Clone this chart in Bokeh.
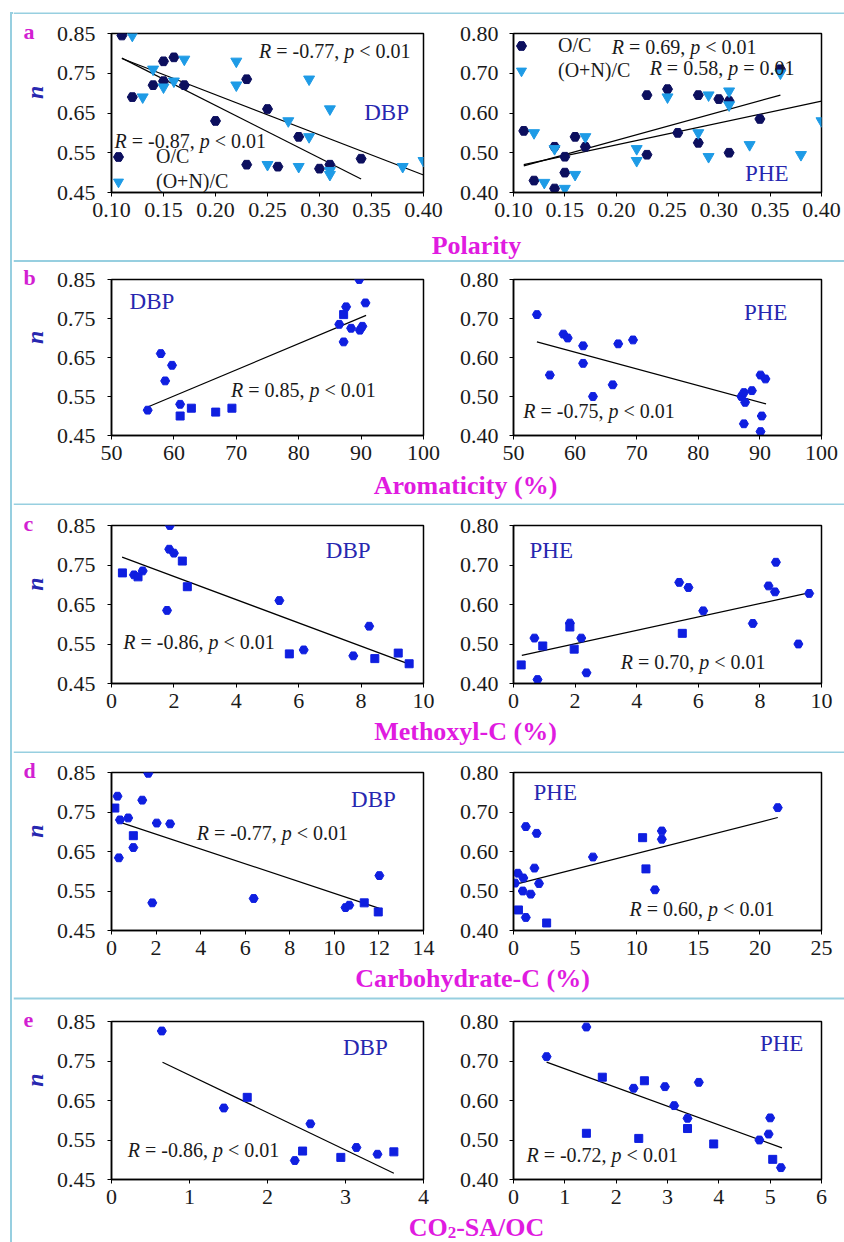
import math
from bokeh.plotting import figure
from bokeh.layouts import column, row
from bokeh.models import (Range1d, FixedTicker, PrintfTickFormatter, Label, Span,
                          Legend, LegendItem, Div)
from bokeh.embed import file_html
from bokeh.resources import INLINE

# ======================= DATA =======================
polarity_ticks = [0.10, 0.15, 0.20, 0.25, 0.30, 0.35, 0.40]
aromaticity_ticks = [50, 60, 70, 80, 90, 100]
methoxyl_ticks = [0, 2, 4, 6, 8, 10]
carb_ticks_dbp = [0, 2, 4, 6, 8, 10, 12, 14]
carb_ticks_phe = [0, 5, 10, 15, 20, 25]
co2_ticks_dbp = [0, 1, 2, 3, 4]
co2_ticks_phe = [0, 1, 2, 3, 4, 5, 6]
n_ticks_dbp = [0.45, 0.55, 0.65, 0.75, 0.85]
n_ticks_phe = [0.40, 0.50, 0.60, 0.70, 0.80]

x_titles = ["Polarity", "Aromaticity (%)", "Methoxyl-C (%)", "Carbohydrate-C (%)"]
co2_title_parts = ["CO", "2", "-SA/OC"]
panel_letters = ["a", "b", "c", "d", "e"]
y_title = "n"
series_names = ["O/C", "(O+N)/C"]
compounds = ["DBP", "PHE"]

# --- a: polarity ---
a_dbp_oc_x = [0.11, 0.12, 0.14, 0.15, 0.16, 0.15, 0.17, 0.20, 0.23, 0.23, 0.25, 0.26, 0.28, 0.30, 0.31, 0.34]
a_dbp_oc_y = [0.845, 0.69, 0.72, 0.78, 0.79, 0.73, 0.72, 0.63, 0.735, 0.52, 0.66, 0.515, 0.59, 0.51, 0.52, 0.535]
a_dbp_on_x = [0.12, 0.13, 0.14, 0.15, 0.16, 0.17, 0.22, 0.22, 0.25, 0.27, 0.28, 0.29, 0.29, 0.31, 0.31, 0.31, 0.38, 0.40]
a_dbp_on_y = [0.845, 0.69, 0.76, 0.715, 0.73, 0.785, 0.78, 0.72, 0.52, 0.63, 0.515, 0.735, 0.59, 0.66, 0.505, 0.495, 0.515, 0.53]
a_phe_oc_x = [0.11, 0.12, 0.14, 0.14, 0.15, 0.15, 0.16, 0.17, 0.23, 0.23, 0.25, 0.26, 0.28, 0.28, 0.30, 0.31, 0.31, 0.34, 0.36]
a_phe_oc_y = [0.555, 0.43, 0.515, 0.41, 0.49, 0.45, 0.54, 0.515, 0.645, 0.495, 0.66, 0.55, 0.645, 0.525, 0.635, 0.50, 0.63, 0.585, 0.71]
a_phe_on_x = [0.12, 0.13, 0.14, 0.15, 0.16, 0.17, 0.22, 0.22, 0.25, 0.28, 0.29, 0.29, 0.31, 0.31, 0.33, 0.36, 0.38, 0.40]
a_phe_on_y = [0.55, 0.425, 0.51, 0.41, 0.445, 0.54, 0.51, 0.48, 0.64, 0.55, 0.645, 0.49, 0.655, 0.62, 0.52, 0.70, 0.495, 0.58]
a_dbp_oc_fit_x, a_dbp_oc_fit_y = [0.11, 0.34], [0.788, 0.484]
a_dbp_on_fit_x, a_dbp_on_fit_y = [0.11, 0.40], [0.787, 0.494]
a_phe_oc_fit_x, a_phe_oc_fit_y = [0.11, 0.36], [0.467, 0.645]
a_phe_on_fit_x, a_phe_on_fit_y = [0.11, 0.40], [0.470, 0.630]

# --- b: aromaticity ---
b_dbp_round_x = [55.8, 57.9, 58.6, 59.7, 61.0, 86.5, 87.6, 87.2, 88.4, 89.7, 89.8, 90.2, 90.7]
b_dbp_round_y = [0.515, 0.66, 0.59, 0.63, 0.53, 0.735, 0.78, 0.69, 0.725, 0.85, 0.72, 0.73, 0.79]
b_dbp_sq_x = [61.0, 62.8, 66.7, 69.3, 87.2]
b_dbp_sq_y = [0.50, 0.52, 0.51, 0.52, 0.76]
b_phe_round_x = [53.8, 55.9, 58.1, 58.8, 61.3, 61.3, 62.9, 66.1, 67.0, 69.4, 87.0, 87.4, 87.4, 87.6, 88.7, 90.1, 90.3, 90.1, 90.9]
b_phe_round_y = [0.71, 0.555, 0.66, 0.65, 0.63, 0.585, 0.50, 0.53, 0.635, 0.645, 0.50, 0.51, 0.43, 0.485, 0.515, 0.555, 0.45, 0.41, 0.545]
b_phe_sq_x = []
b_phe_sq_y = []
b_dbp_fit_x, b_dbp_fit_y = [55.8, 90.8], [0.523, 0.758]
b_phe_fit_x, b_phe_fit_y = [53.8, 91.0], [0.640, 0.481]

# --- c: methoxyl-C ---
c_dbp_round_x = [0.72, 1.0, 1.78, 1.87, 1.85, 2.0, 5.38, 6.16, 7.75, 8.26]
c_dbp_round_y = [0.725, 0.735, 0.635, 0.85, 0.79, 0.78, 0.66, 0.535, 0.52, 0.595]
c_dbp_sq_x = [0.35, 0.85, 2.27, 2.43, 5.7, 8.44, 9.19, 9.54]
c_dbp_sq_y = [0.73, 0.72, 0.76, 0.695, 0.525, 0.513, 0.527, 0.50]
c_phe_round_x = [0.68, 0.78, 1.83, 2.2, 2.37, 5.38, 5.68, 6.16, 7.77, 8.28, 8.49, 8.52, 9.25, 9.6]
c_phe_round_y = [0.515, 0.41, 0.553, 0.515, 0.427, 0.656, 0.643, 0.584, 0.552, 0.647, 0.632, 0.707, 0.50, 0.628]
c_phe_sq_x = [0.25, 0.95, 1.83, 1.97, 5.48]
c_phe_sq_y = [0.447, 0.495, 0.543, 0.487, 0.527]
c_dbp_fit_x, c_dbp_fit_y = [0.34, 9.65], [0.770, 0.496]
c_phe_fit_x, c_phe_fit_y = [0.27, 9.62], [0.471, 0.630]

# --- d: carbohydrate-C ---
d_dbp_round_x = [0.27, 0.33, 0.38, 0.75, 0.98, 1.38, 1.65, 1.83, 2.03, 2.63, 6.38, 10.5, 10.67, 12.02]
d_dbp_round_y = [0.79, 0.634, 0.73, 0.735, 0.66, 0.78, 0.848, 0.52, 0.722, 0.72, 0.531, 0.508, 0.514, 0.589]
d_dbp_sq_x = [0.15, 0.98, 11.34, 11.97]
d_dbp_sq_y = [0.76, 0.69, 0.52, 0.497]
d_phe_round_x = [0.13, 0.35, 0.8, 0.75, 1.0, 1.0, 1.4, 1.7, 1.88, 2.07, 6.45, 11.48, 12.04, 12.04, 21.45]
d_phe_round_y = [0.52, 0.545, 0.533, 0.50, 0.663, 0.433, 0.492, 0.558, 0.646, 0.519, 0.586, 0.503, 0.652, 0.631, 0.711]
d_phe_sq_x = [0.4, 2.69, 10.48, 10.75]
d_phe_sq_y = [0.452, 0.419, 0.635, 0.556]
d_dbp_fit_x, d_dbp_fit_y = [0.23, 12.02], [0.727, 0.506]
d_phe_fit_x, d_phe_fit_y = [0.30, 21.45], [0.518, 0.686]

# --- e: CO2-SA/OC ---
e_dbp_round_x = [0.645, 1.44, 2.35, 2.55, 3.14, 3.41]
e_dbp_round_y = [0.826, 0.631, 0.498, 0.591, 0.531, 0.514]
e_dbp_sq_x = [1.74, 2.45, 2.94, 3.62]
e_dbp_sq_y = [0.658, 0.522, 0.506, 0.52]
e_phe_round_x = [0.645, 1.42, 2.34, 2.95, 3.13, 3.39, 3.61, 4.79, 4.97, 5.0, 5.21]
e_phe_round_y = [0.711, 0.786, 0.631, 0.635, 0.587, 0.555, 0.646, 0.50, 0.515, 0.556, 0.43]
e_phe_sq_x = [1.42, 1.73, 2.44, 2.55, 3.39, 3.9, 5.05]
e_phe_sq_y = [0.517, 0.659, 0.504, 0.65, 0.529, 0.49, 0.451]
e_dbp_fit_x, e_dbp_fit_y = [0.654, 3.62], [0.747, 0.466]
e_phe_fit_x, e_phe_fit_y = [0.645, 5.23], [0.697, 0.480]

# correlation annotations: (R, relation, p)
a_dbp_stats = [("-0.77", "<", "0.01"), ("-0.87", "<", "0.01")]
a_phe_stats = [("0.69", "<", "0.01"), ("0.58", "=", "0.01")]
b_stats = [("0.85", "<", "0.01"), ("-0.75", "<", "0.01")]
c_stats = [("-0.86", "<", "0.01"), ("0.70", "<", "0.01")]
d_stats = [("-0.77", "<", "0.01"), ("0.60", "<", "0.01")]
e_stats = [("-0.86", "<", "0.01"), ("-0.72", "<", "0.01")]

# ======================= STYLE / LAYOUT =======================
SERIF = "Liberation Serif"
BORDER = "#97cfe0"
NAVY = "#0c0f5e"
LIGHT = "#1e9be6"
BLUE = "#0f1fe0"
TEXTBLUE = "#2727b0"
MAGENTA = "#e01be0"
LETTER = "#d21fd2"
INK = "#1a1a1a"

FULL_W = 844
SP_W = 13
L_W, R_W = 443, 388
L_BL, L_FW = 98, 312
R_BL, R_FW = 55, 310
ROWS = [
    dict(h=216, bt=19, bb=38, sh=32, ly=15, sep=30.5, lx=463),
    dict(h=208, bt=17, bb=35, sh=35, ly=15, sep=34, lx=452),
    dict(h=211, bt=20, bb=33, sh=37, ly=15, sep=36, lx=452),
    dict(h=210, bt=19, bb=33, sh=37, ly=15, sep=35, lx=459),
    dict(h=212, bt=21, bb=33, sh=30, ly=15, sep=None, lx=463),
]

W_REG = {' ': 0.25, '.': 0.25, ',': 0.25, '-': 0.333, '=': 0.564, '<': 0.564, '+': 0.564,
         '/': 0.278, '(': 0.333, ')': 0.333, '%': 0.833, 'O': 0.722, 'C': 0.667, 'N': 0.722}
W_ITAL = {'R': 0.611, 'p': 0.5}
W_BOLD = {'C': 0.722, 'O': 0.778, 'S': 0.556, 'A': 0.722, '/': 0.278, '-': 0.333}


def text_width(t, style, size):
    tbl = W_BOLD if "bold" in style else (W_ITAL if "italic" in style else W_REG)
    return sum(tbl.get(c, W_REG.get(c, 0.5)) for c in t) * size


def rich(p, x, y, parts, size, color, align="left"):
    """parts: list of (text, style, size or None, dy)"""
    widths = [text_width(t, st, sz or size) for (t, st, sz, dy) in parts]
    off = -(sum(widths) / 2.0 if align == "center" else 0.0)
    for (t, st, sz, dy), w in zip(parts, widths):
        lead = len(t) - len(t.lstrip(" "))
        shown = t.strip(" ")
        if shown:
            p.add_layout(Label(x=x, y=y, x_offset=off + text_width(" " * lead, "normal", sz or size),
                               y_offset=dy, text=shown, text_font=SERIF,
                               text_font_size="%dpx" % (sz or size), text_font_style=st,
                               text_color=color, text_align="left", text_baseline="middle"))
        off += w


def frac(p, fx, fy):
    xr, yr = p.x_range, p.y_range
    return xr.start + fx * (xr.end - xr.start), yr.end - fy * (yr.end - yr.start)


def r_text(p, fx, fy, stat, size=20):
    r, rel, pv = stat
    x, y = frac(p, fx, fy)
    rich(p, x, y, [("R", "italic", None, 0), (" = %s, " % r, "normal", None, 0),
                   ("p", "italic", None, 0), (" %s %s" % (rel, pv), "normal", None, 0)],
         size, INK)


def tag(p, fx, fy, txt):
    x, y = frac(p, fx, fy)
    p.add_layout(Label(x=x, y=y, text=txt, text_font=SERIF, text_font_size="23px",
                       text_color=TEXTBLUE, text_baseline="middle", text_align="left"))


def clean(f):
    f.grid.visible = False
    f.outline_line_color = None
    f.background_fill_color = "white"
    f.border_fill_color = "white"


def panel(left, g, xr, xt, xfmt, yr, yt):
    w = L_W if left else R_W
    bl = L_BL if left else R_BL
    fw = L_FW if left else R_FW
    p = figure(width=w, height=g["h"], x_range=Range1d(*xr), y_range=Range1d(*yr),
               output_backend="svg", toolbar_location=None,
               min_border_left=bl, min_border_right=w - bl - fw,
               min_border_top=g["bt"], min_border_bottom=g["bb"])
    p.grid.visible = False
    p.outline_line_color = "black"
    p.outline_line_width = 1.5
    p.background_fill_color = "white"
    p.border_fill_color = "white"
    for ax in (p.xaxis[0], p.yaxis[0]):
        ax.axis_line_color = "black"
        ax.axis_line_width = 1.5
        ax.major_tick_out = 4
        ax.major_tick_in = 0
        ax.major_tick_line_color = "black"
        ax.minor_tick_line_color = None
        ax.major_label_text_font = SERIF
        ax.major_label_text_font_size = "22px"
        ax.major_label_text_color = INK
    p.xaxis[0].ticker = FixedTicker(ticks=xt)
    p.xaxis[0].formatter = PrintfTickFormatter(format=xfmt)
    p.xaxis[0].major_label_standoff = 6
    p.yaxis[0].ticker = FixedTicker(ticks=yt)
    p.yaxis[0].formatter = PrintfTickFormatter(format="%.2f")
    p.yaxis[0].major_label_standoff = 12 if left else 11
    return p


def decorate_left(p, letter):
    # placed in the left side panel so that they are not clipped to the frame
    x0, y1 = p.x_range.start, p.y_range.end
    p.add_layout(Label(x=x0, y=y1, x_offset=-88, y_offset=2, text=letter, text_font=SERIF,
                       text_font_size="22px", text_font_style="bold", text_color=LETTER,
                       text_baseline="middle", text_align="left"), "left")
    _, yn = frac(p, 0, 0.37)
    p.add_layout(Label(x=x0, y=yn, x_offset=-77, text=y_title, text_font=SERIF, angle=math.pi / 2,
                       text_font_size="24px", text_font_style="bold italic", text_color=TEXTBLUE,
                       text_baseline="middle", text_align="center"), "left")


def blue_points(p, rx, ry, sx, sy):
    if rx:
        p.scatter(rx, ry, marker="hex", size=9, color=BLUE)
    if sx:
        p.scatter(sx, sy, marker="square", size=8, color=BLUE)


def fit(p, fx, fy):
    p.line(fx, fy, line_color="black", line_width=1.2)


VLINE = ("linear-gradient(to right, transparent 10px, %s 10px, %s 12px, transparent 12px)"
         % (BORDER, BORDER))


def spacer(h):
    return Div(text="", width=SP_W, height=h, margin=0, styles={"background": VLINE})


def top_spacer(h):
    return Div(text="", width=SP_W, height=h, margin=0,
               styles={"background": "linear-gradient(%s, %s) 10px 12px / 3px 2px no-repeat"
                       % (BORDER, BORDER)})


def strip(h, sep):
    s = figure(width=FULL_W - SP_W, height=h, x_range=Range1d(0, FULL_W - SP_W),
               y_range=Range1d(h, 0), output_backend="svg", toolbar_location=None,
               x_axis_location=None, y_axis_location=None, min_border=0)
    clean(s)
    if sep is not None:
        s.add_layout(Span(location=sep, dimension="width", line_color=BORDER, line_width=2))
    return s


def axis_title(s, g, text):
    s.add_layout(Label(x=g["lx"], y=g["ly"], text=text, text_font=SERIF, text_font_size="26px",
                       text_font_style="bold", text_color=MAGENTA, text_align="center",
                       text_baseline="middle"))


def legend(p, items, loc, spacing, standoff):
    p.add_layout(Legend(items=[LegendItem(label=n, renderers=[r]) for n, r in items],
                        location=loc, margin=0, padding=0, spacing=spacing, glyph_width=26,
                        glyph_height=25, label_height=25, label_standoff=standoff,
                        label_text_font=SERIF, label_text_font_size="20px",
                        label_text_color=INK, border_line_color=None, background_fill_alpha=0))


# ======================= BUILD =======================
blocks = [row(top_spacer(14), strip(14, 13))]

# ---- row a ----
g = ROWS[0]
pa1 = panel(True, g, (0.10, 0.40), polarity_ticks, "%.2f", (0.45, 0.85), n_ticks_dbp)
fit(pa1, a_dbp_on_fit_x, a_dbp_on_fit_y)
fit(pa1, a_dbp_oc_fit_x, a_dbp_oc_fit_y)
r1 = pa1.scatter(a_dbp_oc_x, a_dbp_oc_y, marker="hex", size=10, color=NAVY)
r2 = pa1.scatter(a_dbp_on_x, a_dbp_on_y, marker="inverted_triangle", size=11, color=LIGHT)
legend(pa1, [(series_names[0], r1), (series_names[1], r2)], (-6, -2), -4, 25)
r_text(pa1, 0.473, 0.107, a_dbp_stats[0])
r_text(pa1, 0.01, 0.673, a_dbp_stats[1])
tag(pa1, 0.81, 0.497, compounds[0])
decorate_left(pa1, panel_letters[0])

pa2 = panel(False, g, (0.10, 0.40), polarity_ticks, "%.2f", (0.40, 0.80), n_ticks_phe)
fit(pa2, a_phe_oc_fit_x, a_phe_oc_fit_y)
fit(pa2, a_phe_on_fit_x, a_phe_on_fit_y)
q1 = pa2.scatter(a_phe_oc_x, a_phe_oc_y, marker="hex", size=10, color=NAVY)
q2 = pa2.scatter(a_phe_on_x, a_phe_on_y, marker="inverted_triangle", size=11, color=LIGHT)
legend(pa2, [(series_names[0], q1), (series_names[1], q2)], (-5, 109), -1, 24)
r_text(pa2, 0.319, 0.082, a_phe_stats[0])
r_text(pa2, 0.442, 0.22, a_phe_stats[1])
tag(pa2, 0.752, 0.88, compounds[1])

sa = strip(g["sh"], g["sep"])
axis_title(sa, g, x_titles[0])
blocks += [row(spacer(g["h"]), pa1, pa2), row(spacer(g["sh"]), sa)]

# ---- rows b to e ----
specs = [
    (ROWS[1], (50, 100), aromaticity_ticks, aromaticity_ticks, "%d",
     (b_dbp_round_x, b_dbp_round_y, b_dbp_sq_x, b_dbp_sq_y, b_dbp_fit_x, b_dbp_fit_y),
     (b_phe_round_x, b_phe_round_y, b_phe_sq_x, b_phe_sq_y, b_phe_fit_x, b_phe_fit_y),
     b_stats, [(0.058, 0.142), (0.748, 0.21)], [(0.383, 0.71), (0.032, 0.84)], (50, 100), x_titles[1]),
    (ROWS[2], (0, 10), methoxyl_ticks, methoxyl_ticks, "%d",
     (c_dbp_round_x, c_dbp_round_y, c_dbp_sq_x, c_dbp_sq_y, c_dbp_fit_x, c_dbp_fit_y),
     (c_phe_round_x, c_phe_round_y, c_phe_sq_x, c_phe_sq_y, c_phe_fit_x, c_phe_fit_y),
     c_stats, [(0.687, 0.157), (0.052, 0.16)], [(0.038, 0.736), (0.348, 0.866)], (0, 10), x_titles[2]),
    (ROWS[3], (0, 14), carb_ticks_dbp, carb_ticks_phe, "%d",
     (d_dbp_round_x, d_dbp_round_y, d_dbp_sq_x, d_dbp_sq_y, d_dbp_fit_x, d_dbp_fit_y),
     (d_phe_round_x, d_phe_round_y, d_phe_sq_x, d_phe_sq_y, d_phe_fit_x, d_phe_fit_y),
     d_stats, [(0.768, 0.17), (0.065, 0.127)], [(0.273, 0.384), (0.377, 0.867)], (0, 25), x_titles[3]),
    (ROWS[4], (0, 4), co2_ticks_dbp, co2_ticks_phe, "%d",
     (e_dbp_round_x, e_dbp_round_y, e_dbp_sq_x, e_dbp_sq_y, e_dbp_fit_x, e_dbp_fit_y),
     (e_phe_round_x, e_phe_round_y, e_phe_sq_x, e_phe_sq_y, e_phe_fit_x, e_phe_fit_y),
     e_stats, [(0.742, 0.165), (0.80, 0.139)], [(0.052, 0.816), (0.042, 0.848)], (0, 6), None),
]

for i, (g, xr_l, xt_l, xt_r, xfmt, dl, dr, stats, tags, rpos, xr_r, title) in enumerate(specs):
    pl = panel(True, g, xr_l, xt_l, xfmt, (0.45, 0.85), n_ticks_dbp)
    fit(pl, dl[4], dl[5])
    blue_points(pl, dl[0], dl[1], dl[2], dl[3])
    tag(pl, tags[0][0], tags[0][1], compounds[0])
    r_text(pl, rpos[0][0], rpos[0][1], stats[0])
    decorate_left(pl, panel_letters[i + 1])

    pr = panel(False, g, xr_r, xt_r, xfmt, (0.40, 0.80), n_ticks_phe)
    fit(pr, dr[4], dr[5])
    blue_points(pr, dr[0], dr[1], dr[2], dr[3])
    tag(pr, tags[1][0], tags[1][1], compounds[1])
    r_text(pr, rpos[1][0], rpos[1][1], stats[1])

    s = strip(g["sh"], g["sep"])
    if title is not None:
        axis_title(s, g, title)
    else:
        rich(s, g["lx"], g["ly"], [(co2_title_parts[0], "bold", 26, 0),
                                   (co2_title_parts[1], "bold", 17, -5),
                                   (co2_title_parts[2], "bold", 26, 0)],
             26, MAGENTA, align="center")
    blocks += [row(spacer(g["h"]), pl, pr), row(spacer(g["sh"]), s)]

layout = column(*blocks)
open("out.html", "w").write(file_html(layout, INLINE))
